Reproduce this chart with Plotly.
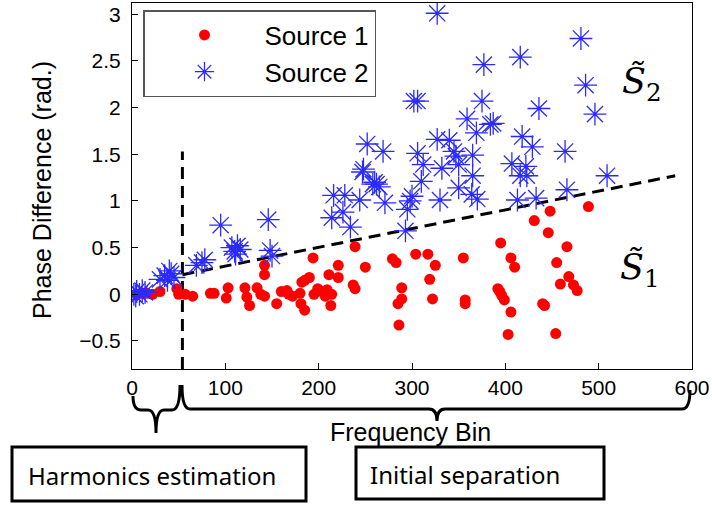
import plotly.graph_objects as go

# ---------------- data ----------------
src1_x = [5, 10, 16, 22, 30, 48, 50, 57, 65, 84, 88, 101, 103, 121, 123, 126, 134, 138, 142,
          142, 142, 155, 160, 166, 168, 172, 181, 185, 180, 182, 185, 190, 194, 195, 199, 204,
          207, 209, 214, 213, 211, 221, 221, 239, 250, 237, 239, 279, 283, 304, 317, 325, 319,
          289, 289, 285, 286, 322, 355, 357, 357, 395, 406, 410, 392, 394, 396, 399, 406, 403,
          431, 448, 446, 489, 466, 455, 468, 459, 473, 477, 440, 442, 454]
src1_y = [0.0, 0.01, 0.01, 0.0, 0.03, 0.06, 0.0, 0.0, -0.02, 0.01, 0.01, -0.04, 0.07, 0.07,
          -0.03, -0.12, 0.07, 0.0, -0.02, 0.21, 0.31, -0.1, 0.03, 0.04, 0.0, -0.02, -0.1,
          -0.17, 0.01, 0.13, 0.15, 0.18, 0.39, 0.0, 0.06, 0.03, -0.02, 0.05, 0.0, -0.12, 0.21,
          0.18, 0.31, 0.51, 0.29, 0.1, 0.06, 0.38, 0.34, 0.43, 0.43, 0.31, 0.16, 0.07, -0.05,
          -0.1, -0.33, -0.05, 0.39, -0.06, -0.1, 0.55, 0.39, 0.29, 0.06, 0.03, -0.01, -0.06,
          -0.19, -0.43, 0.79, 0.89, 0.66, 0.94, 0.51, 0.34, 0.19, 0.11, 0.1, 0.04, -0.1, -0.12,
          -0.42]

src2_x = [2, 5, 8, 11, 14, 4, 30, 35, 38, 42, 45, 40, 69, 75, 78, 95, 107, 110, 113, 116, 111,
          146, 148, 150, 216, 228, 244, 226, 214, 234, 247, 258, 262, 265, 260, 327, 377, 416,
          302, 306, 375, 359, 384, 387, 369, 252, 269, 306, 327, 340, 345, 347, 350, 365, 312,
          332, 248, 310, 365, 407, 418, 416, 423, 422, 429, 350, 364, 370, 330, 300, 298, 295,
          271, 293, 413, 481, 486, 436, 496, 464, 509, 433, 466]
src2_y = [0.0, 0.03, 0.0, 0.04, 0.02, -0.02, 0.16, 0.2, 0.15, 0.22, 0.18, 0.25, 0.31, 0.34,
          0.37, 0.74, 0.5, 0.46, 0.52, 0.48, 0.43, 0.8, 0.47, 0.41, 1.06, 1.06, 1.01, 0.88,
          0.82, 0.72, 1.31, 1.18, 1.18, 1.15, 1.2, 3.01, 2.46, 2.54, 2.07, 2.07, 2.07, 1.88,
          1.82, 1.83, 1.73, 1.61, 1.53, 1.51, 1.66, 1.65, 1.53, 1.48, 1.39, 1.49, 1.39, 1.35,
          1.34, 1.21, 1.27, 1.4, 1.69, 1.27, 1.27, 1.37, 1.58, 1.14, 1.07, 1.02, 1.01, 1.05,
          1.0, 0.91, 0.98, 0.68, 1.01, 2.74, 2.24, 1.99, 1.93, 1.53, 1.27, 1.03, 1.12]

x_ticks = [0, 100, 200, 300, 400, 500, 600]
y_ticks = [-0.5, 0, 0.5, 1, 1.5, 2, 2.5, 3]
y_tick_text = ["\u22120.5", "0", "0.5", "1", "1.5", "2", "2.5", "3"]

split_x = [54, 54]
split_y = [-0.8, 1.53]
bound_x = [54, 582]
bound_y = [0.21, 1.27]

# ---------------- layout geometry (pixels) ----------------
W, H = 712, 507
L, R, T, B = 132, 692, 3, 369


def px(x):
    return (x - L) / (R - L)


def py(y):
    return (B - y) / (B - T)


fig = go.Figure()

fig.add_trace(go.Scatter(x=split_x, y=split_y, mode="lines", showlegend=False,
                         line=dict(color="black", width=3, dash="12px,7px"),
                         hoverinfo="skip"))
fig.add_trace(go.Scatter(x=bound_x, y=bound_y, mode="lines", showlegend=False,
                         line=dict(color="black", width=3, dash="12px,7px"),
                         hoverinfo="skip"))

fig.add_trace(go.Scatter(x=src1_x, y=src1_y, mode="markers",
                         name="Source 1",
                         marker=dict(symbol="circle", size=11, color="#ff0000",
                                     line=dict(width=0))))
fig.add_trace(go.Scatter(x=src2_x, y=src2_y, mode="markers",
                         name="Source 2",
                         marker=dict(symbol="asterisk-open", size=19, color="#2a2aff",
                                     line=dict(width=1.3, color="#2a2aff"))))


def brace(x0, x1, xm, ytop0, ytop1, yline, ytip, r=7):
    pts = [
        ("M", x0, ytop0),
        ("Q", x0, yline, x0 + r, yline),
        ("L", xm - r, yline),
        ("Q", xm, yline, xm, ytip),
        ("M", xm, ytip),
        ("Q", xm, yline, xm + r, yline),
        ("L", x1 - r, yline),
        ("Q", x1, yline, x1, ytop1),
    ]
    s = ""
    for p in pts:
        cmd = p[0]
        coords = p[1:]
        s += cmd + " "
        for i in range(0, len(coords), 2):
            s += f"{px(coords[i]):.5f},{py(coords[i+1]):.5f} "
    return s.strip()


shapes = [
    dict(type="path", xref="paper", yref="paper",
         path=brace(133, 180, 156, 396, 385, 410, 433, r=8),
         line=dict(color="black", width=3)),
    dict(type="path", xref="paper", yref="paper",
         path=brace(182, 690, 437, 385, 390, 409, 421, r=8),
         line=dict(color="black", width=3)),
    dict(type="rect", xref="paper", yref="paper",
         x0=px(12), x1=px(306), y0=py(447), y1=py(501),
         line=dict(color="black", width=3)),
    dict(type="rect", xref="paper", yref="paper",
         x0=px(356), x1=px(604), y0=py(447), y1=py(499),
         line=dict(color="black", width=3)),
]

annotations = [
    dict(text="Frequency Bin", xref="paper", yref="paper", x=px(410), y=py(432),
         xanchor="center", yanchor="middle", showarrow=False,
         font=dict(family="Liberation Sans", size=25, color="black")),
    dict(text="Phase Difference (rad.)", xref="paper", yref="paper", x=px(42), y=py(190),
         xanchor="center", yanchor="middle", showarrow=False, textangle=-90,
         font=dict(family="Liberation Sans", size=25, color="black")),
    dict(text="Harmonics estimation", xref="paper", yref="paper", x=px(152), y=py(475),
         xanchor="center", yanchor="middle", showarrow=False,
         font=dict(family="Noto Sans", size=24, color="black")),
    dict(text="Initial separation", xref="paper", yref="paper", x=px(465), y=py(474),
         xanchor="center", yanchor="middle", showarrow=False,
         font=dict(family="Noto Sans", size=24, color="black")),
    # S~2 and S~1 (combining tilde keeps it one text)
    dict(text="<i>S\u0303</i><sub>2</sub>", xref="paper", yref="paper", x=px(620), y=py(84),
         xanchor="left", yanchor="middle", showarrow=False,
         font=dict(family="DejaVu Serif", size=35, color="black")),
    dict(text="<i>S\u0303</i><sub>1</sub>", xref="paper", yref="paper", x=px(618), y=py(270),
         xanchor="left", yanchor="middle", showarrow=False,
         font=dict(family="DejaVu Serif", size=35, color="black")),
]

fig.update_layout(
    width=W, height=H,
    margin=dict(l=L, r=W - R, t=T, b=H - B, pad=0),
    paper_bgcolor="white", plot_bgcolor="white",
    font=dict(family="Liberation Sans", size=21, color="black"),
    showlegend=True,
    legend=dict(x=px(143), y=py(10), xanchor="left", yanchor="top",
                bgcolor="white", bordercolor="#555555", borderwidth=1.5,
                font=dict(family="Liberation Sans", size=26, color="black"),
                itemwidth=110, tracegroupgap=0),
    xaxis=dict(range=[0, 600], tickmode="array", tickvals=x_ticks,
               showline=True, mirror=True, linecolor="black", linewidth=1,
               ticks="inside", ticklen=6, tickcolor="black",
               showgrid=False, zeroline=False, tickfont=dict(size=21)),
    yaxis=dict(range=[-0.8, 3.12], tickmode="array", tickvals=y_ticks, ticktext=y_tick_text,
               showline=True, mirror=True, linecolor="black", linewidth=1,
               ticks="inside", ticklen=6, tickcolor="black", ticklabelstandoff=6,
               showgrid=False, zeroline=False, tickfont=dict(size=21)),
    shapes=shapes,
    annotations=annotations,
)

fig.write_html("out.html")
